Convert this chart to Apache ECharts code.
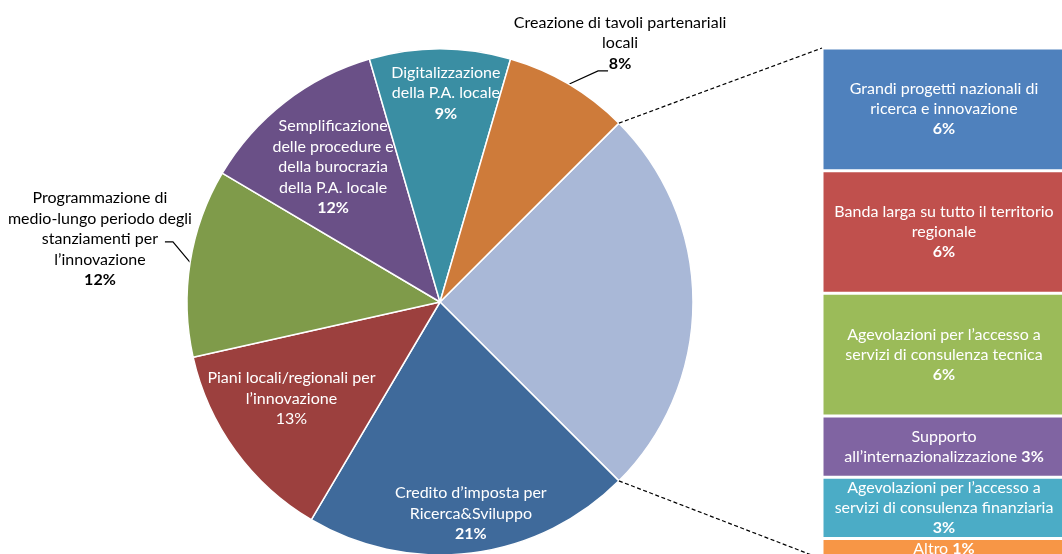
<!DOCTYPE html>
<html>
<head>
<meta charset="utf-8">
<script src="https://cdn.jsdelivr.net/npm/echarts@6/dist/echarts.min.js"></script>
<style>
  html, body { margin: 0; padding: 0; background: #fff; }
  #chart { width: 1062px; height: 554px; }
</style>
</head>
<body>
<div id="chart"></div>
<script>
// Main pie: measures to support innovation (% of answers)
const pieNames = [
  'Altre misure',
  'Credito d’imposta per\nRicerca&Sviluppo',
  'Piani locali/regionali per\nl’innovazione',
  'Programmazione di\nmedio-lungo periodo degli\nstanziamenti per\nl’innovazione',
  'Semplificazione\ndelle procedure e\ndella burocrazia\ndella P.A. locale',
  'Digitalizzazione\ndella P.A. locale',
  'Creazione di tavoli partenariali\nlocali'
];
const pieValues = [25, 21, 13, 12, 12, 9, 8];
const pieColors = ['#A9B8D7', '#3F6A9B', '#9C403E', '#7F9B4A', '#6A5087', '#3A8EA3', '#CE7B3A'];

// Breakdown of the "other measures" slice, drawn as a stacked column
const barNames = [
  'Grandi progetti nazionali di\nricerca e innovazione',
  'Banda larga su tutto il territorio\nregionale',
  'Agevolazioni per l’accesso a\nservizi di consulenza tecnica',
  'Supporto\nall’internazionalizzazione',
  'Agevolazioni per l’accesso a\nservizi di consulenza finanziaria',
  'Altro'
];
const barValues = [6, 6, 6, 3, 3, 1];
const barColors = ['#4F81BD', '#C0504D', '#9BBB59', '#8064A2', '#4BACC6', '#F79646'];

// Geometry of the pie and of the column (the column runs past the right and bottom edges)
const CENTER = [440, 302];
const RADIUS = 253;
const START = 45;
const GRID = { left: 822, top: 48, width: 244, height: 511 };
const FONT = 'Lato, "Open Sans", sans-serif';
const WHITE_SIZE = 16;
const DARK_SIZE = 16;

const total = pieValues.reduce((a, b) => a + b, 0);
const midAngle = [];
let acc = 0;
pieValues.forEach(v => { midAngle.push(START - 360 * (acc + v / 2) / total); acc += v; });

function polar(deg, dist) {
  const a = deg * Math.PI / 180;
  return [CENTER[0] + dist * Math.cos(a), CENTER[1] - dist * Math.sin(a)];
}

// Label placement: radial fraction, angular nudge and (for outside labels) leader offsets
const place = {
  1: { f: 0.845, da: 1.1 },
  2: { f: 0.70, da: -3 },
  3: { f: 1.367, da: -1.5, guide: [[73, 3], [65, 3]] },
  4: { f: 0.68, da: 0.6 },
  5: { f: 0.826, da: -1.6 },
  6: { f: 1.247, da: -4.2, guide: [[-22, 28], [-12, 28]] }
};
const outside = { 3: true, 6: true };
const plainPct = { 2: true };

const pieData = pieValues.map((v, i) => {
  const item = { name: pieNames[i], value: v, itemStyle: { color: pieColors[i] } };
  if (i === 0) {
    item.label = { show: false };
    item.labelLine = { show: false };
  } else if (outside[i]) {
    item.label = {
      show: true, position: 'outside', color: '#000', fontSize: DARK_SIZE,
      rich: { b: { fontWeight: 'bold', color: '#000', fontFamily: FONT, fontSize: DARK_SIZE, lineHeight: 20.5 } }
    };
    item.labelLine = { show: true, lineStyle: { color: '#000', width: 1.2 } };
  } else {
    item.label = {
      show: true, position: 'inside', color: '#fff', fontSize: WHITE_SIZE,
      rich: { b: { fontWeight: 'bold', color: '#fff', fontFamily: FONT, fontSize: WHITE_SIZE, lineHeight: 20.5 } }
    };
    item.labelLine = { show: false };
  }
  return item;
});

const chart = echarts.init(document.getElementById('chart'), null, { renderer: 'canvas' });

const barSeries = barValues.map((v, i) => ({
  type: 'bar',
  name: barNames[i],
  stack: 'altre',
  barWidth: '100%',
  data: [v],
  itemStyle: { color: barColors[i], borderColor: '#fff', borderWidth: 1.5 },
  label: {
    show: true,
    position: 'inside',
    color: '#fff',
    fontFamily: FONT,
    fontSize: WHITE_SIZE,
    lineHeight: 20,
    align: 'center',
    formatter: p => {
      if (i === 3 || i === 5) return p.seriesName + ' {b|' + p.value + '%}';
      return p.seriesName + '\n{b|' + p.value + '%}';
    },
    rich: { b: { fontWeight: 'bold', color: '#fff', fontFamily: FONT, fontSize: WHITE_SIZE, lineHeight: 20 } }
  }
}));

const option = {
  animation: false,
  backgroundColor: '#fff',
  textStyle: { fontFamily: FONT },
  grid: {
    left: GRID.left, top: GRID.top, width: GRID.width, height: GRID.height,
    outerBoundsMode: 'none'
  },
  xAxis: { type: 'category', data: ['altre'], show: false },
  yAxis: { type: 'value', min: 0, max: pieValues[0], inverse: true, show: false },
  series: [
    {
      type: 'pie',
      center: CENTER,
      radius: RADIUS,
      startAngle: START,
      clockwise: true,
      avoidLabelOverlap: false,
      itemStyle: { borderColor: '#fff', borderWidth: 1.5 },
      label: {
        fontFamily: FONT,
        lineHeight: 20.5,
        align: 'center',
        formatter: p => {
          const pct = plainPct[p.dataIndex] ? p.value + '%' : '{b|' + p.value + '%}';
          return p.name + '\n' + pct;
        }
      },
      labelLayout: params => {
        const i = params.dataIndex;
        const pl = place[i];
        if (!pl) return {};
        const pos = polar(midAngle[i] + pl.da, pl.f * RADIUS);
        const out = { x: pos[0], y: pos[1], align: 'center', verticalAlign: 'middle' };
        if (pl.guide) {
          out.labelLinePoints = [
            polar(midAngle[i], RADIUS),
            [pos[0] + pl.guide[0][0], pos[1] + pl.guide[0][1]],
            [pos[0] + pl.guide[1][0], pos[1] + pl.guide[1][1]]
          ];
        }
        return out;
      },
      data: pieData
    },
    ...barSeries
  ]
};

// Dashed connectors from the "other measures" slice to the column
const sliceEnd = START - 360 * pieValues[0] / total;
const pTop = polar(START, RADIUS);
const pBottom = polar(sliceEnd, RADIUS);
option.graphic = [
  { type: 'line', silent: true, z: 10,
    shape: { x1: pTop[0], y1: pTop[1], x2: GRID.left, y2: GRID.top },
    style: { stroke: '#000', lineWidth: 1.2, lineDash: [4, 2.5] } },
  { type: 'line', silent: true, z: 10,
    shape: { x1: pBottom[0], y1: pBottom[1], x2: GRID.left, y2: GRID.top + GRID.height },
    style: { stroke: '#000', lineWidth: 1.2, lineDash: [4, 2.5] } }
];

chart.setOption(option);
</script>
</body>
</html>
